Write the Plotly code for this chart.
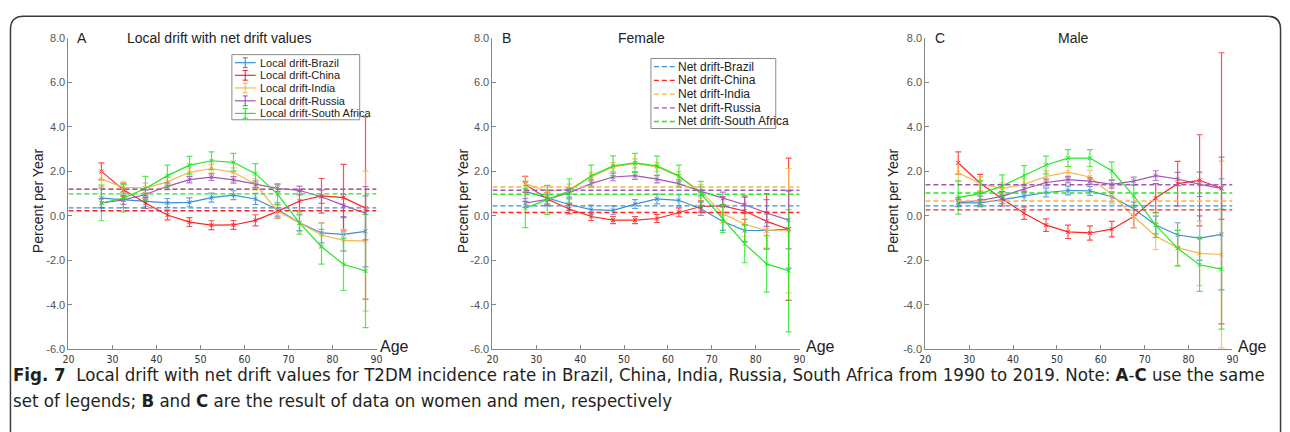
import plotly.graph_objects as go

W, H = 1290, 432

ages = [27.5, 32.5, 37.5, 42.5, 47.5, 52.5, 57.5, 62.5, 67.5, 72.5, 77.5, 82.5, 87.5]
countries = ["Brazil", "China", "India", "Russia", "South Africa"]
colors = ["#3b8fd4", "#ff2424", "#f6b74c", "#a056b8", "#22e822"]
err_colors = ["rgba(59,143,212,0.8)", "rgba(255,36,36,0.8)", "rgba(246,183,76,0.8)",
              "rgba(160,86,184,0.8)", "rgba(34,232,34,0.8)"]

# Panel A: both sexes
A_brazil = [0.80, 0.72, 0.66, 0.58, 0.61, 0.82, 0.93, 0.76, 0.29, -0.31, -0.77, -0.83, -0.70]
A_brazil_err = [0.45, 0.35, 0.25, 0.20, 0.20, 0.20, 0.20, 0.25, 0.30, 0.35, 0.45, 0.75, 1.60]
A_china = [2.00, 1.17, 0.58, 0.04, -0.28, -0.42, -0.41, -0.20, 0.20, 0.67, 0.90, 0.82, 0.35]
A_china_err = [0.38, 0.30, 0.25, 0.22, 0.20, 0.20, 0.20, 0.25, 0.30, 0.45, 0.78, 1.50, 4.10]
A_india = [1.65, 1.28, 1.25, 1.53, 1.96, 2.13, 1.96, 1.42, 0.22, -0.31, -0.86, -1.10, -1.14]
A_india_err = [0.35, 0.25, 0.22, 0.20, 0.20, 0.20, 0.20, 0.25, 0.30, 0.40, 0.55, 0.50, 3.15]
A_russia = [0.58, 0.72, 0.96, 1.33, 1.63, 1.74, 1.62, 1.42, 1.24, 1.14, 0.86, 0.47, 0.12]
A_russia_err = [0.20, 0.20, 0.20, 0.15, 0.15, 0.15, 0.15, 0.15, 0.15, 0.20, 0.30, 0.50, 1.20]
A_safrica = [0.58, 0.80, 1.23, 1.81, 2.28, 2.48, 2.41, 1.90, 0.98, -0.32, -1.39, -2.18, -2.48]
A_safrica_err = [0.80, 0.62, 0.55, 0.47, 0.40, 0.40, 0.40, 0.45, 0.47, 0.50, 0.78, 1.18, 2.55]
A_net = [0.36, 0.23, 1.20, 1.20, 0.99]

# Panel B: female
B_brazil = [1.10, 0.80, 0.51, 0.28, 0.25, 0.53, 0.76, 0.70, 0.32, -0.25, -0.66, -0.66, -0.60]
B_brazil_err = [0.45, 0.35, 0.25, 0.20, 0.20, 0.20, 0.22, 0.25, 0.30, 0.40, 0.50, 0.80, 1.75]
B_china = [1.42, 0.76, 0.31, -0.03, -0.19, -0.19, -0.12, 0.16, 0.42, 0.45, 0.22, -0.25, -0.60]
B_china_err = [0.35, 0.28, 0.22, 0.18, 0.16, 0.16, 0.18, 0.20, 0.25, 0.40, 0.62, 1.25, 3.20]
B_india = [1.45, 1.10, 1.21, 1.75, 2.20, 2.36, 2.20, 1.77, 1.10, 0.10, -0.38, -0.66, -0.67]
B_india_err = [0.35, 0.25, 0.22, 0.20, 0.20, 0.20, 0.20, 0.22, 0.30, 0.40, 0.55, 0.80, 2.80]
B_russia = [0.58, 0.74, 1.04, 1.45, 1.75, 1.81, 1.65, 1.45, 1.10, 0.79, 0.50, 0.13, -0.19]
B_russia_err = [0.20, 0.20, 0.20, 0.17, 0.17, 0.17, 0.17, 0.17, 0.20, 0.28, 0.40, 0.60, 1.30]
B_safrica = [0.35, 0.72, 1.12, 1.80, 2.25, 2.38, 2.25, 1.80, 1.00, -0.13, -1.26, -2.16, -2.47]
B_safrica_err = [0.88, 0.65, 0.55, 0.48, 0.45, 0.43, 0.44, 0.48, 0.55, 0.62, 0.85, 1.27, 2.75]
B_net = [0.45, 0.15, 1.30, 1.15, 0.97]

# Panel C: male
C_brazil = [0.58, 0.58, 0.73, 0.89, 1.05, 1.14, 1.12, 0.86, 0.32, -0.41, -0.86, -1.00, -0.83]
C_brazil_err = [0.15, 0.15, 0.18, 0.20, 0.20, 0.20, 0.20, 0.22, 0.30, 0.40, 0.55, 1.00, 2.50]
C_china = [2.38, 1.47, 0.77, 0.12, -0.42, -0.72, -0.77, -0.60, -0.03, 0.80, 1.45, 1.60, 1.24]
C_china_err = [0.50, 0.40, 0.32, 0.28, 0.28, 0.30, 0.32, 0.35, 0.50, 0.65, 1.00, 2.05, 6.10]
C_india = [1.94, 1.45, 1.23, 1.42, 1.77, 1.97, 1.75, 0.95, -0.03, -0.92, -1.43, -1.69, -1.74]
C_india_err = [0.40, 0.30, 0.25, 0.25, 0.25, 0.25, 0.30, 0.40, 0.50, 0.60, 0.80, 1.45, 4.20]
C_russia = [0.61, 0.69, 0.88, 1.21, 1.50, 1.63, 1.56, 1.42, 1.56, 1.81, 1.66, 1.42, 1.24]
C_russia_err = [0.20, 0.20, 0.20, 0.17, 0.15, 0.15, 0.15, 0.17, 0.18, 0.22, 0.30, 0.55, 1.40]
C_safrica = [0.83, 1.00, 1.34, 1.81, 2.29, 2.60, 2.60, 2.03, 0.90, -0.42, -1.46, -2.20, -2.40]
C_safrica_err = [0.75, 0.60, 0.50, 0.45, 0.40, 0.38, 0.38, 0.40, 0.50, 0.55, 0.80, 1.20, 2.70]
C_net = [0.45, 0.27, 0.67, 1.40, 1.03]

panel_letters = ["A", "B", "C"]
panel_titles = ["Local drift with net drift values", "Female", "Male"]
x_ticks = [20, 30, 40, 50, 60, 70, 80, 90]
y_ticks = [-6, -4, -2, 0, 2, 4, 6, 8]

panels = [
    ([A_brazil, A_china, A_india, A_russia, A_safrica],
     [A_brazil_err, A_china_err, A_india_err, A_russia_err, A_safrica_err], A_net),
    ([B_brazil, B_china, B_india, B_russia, B_safrica],
     [B_brazil_err, B_china_err, B_india_err, B_russia_err, B_safrica_err], B_net),
    ([C_brazil, C_china, C_india, C_russia, C_safrica],
     [C_brazil_err, C_china_err, C_india_err, C_russia_err, C_safrica_err], C_net),
]

def fx(px):
    return px / W

def fy(py):
    return 1 - py / H

# pixel layout of the three plot areas
x_left = [63, 491, 928]
x_right = [374, 801, 1238]
y_top, y_bot = 33, 353

fig = go.Figure()

for p, (vals, errs, nets) in enumerate(panels):
    ax = "" if p == 0 else str(p + 1)
    for i, c in enumerate(countries):
        fig.add_trace(go.Scatter(
            x=ages, y=vals[i], mode="lines+markers",
            name="Local drift-" + c, showlegend=False,
            line=dict(color=colors[i], width=1.2),
            marker=dict(symbol="x-thin", size=4, line=dict(color=colors[i], width=1)),
            error_y=dict(type="data", array=errs[i], visible=True, width=3,
                         thickness=1.2, color=err_colors[i]),
            xaxis="x" + ax, yaxis="y" + ax,
        ))
    for i, c in enumerate(countries):
        fig.add_trace(go.Scatter(
            x=[x_ticks[0], x_ticks[-1]], y=[nets[i], nets[i]], mode="lines",
            name="Net drift-" + c, showlegend=False,
            line=dict(color=colors[i], width=1.4, dash="5px,3px"),
            xaxis="x" + ax, yaxis="y" + ax,
        ))

axis_common = dict(showline=True, linecolor="#858585", linewidth=1, ticks="inside",
                   ticklen=4, tickcolor="#858585", showgrid=False, zeroline=False)

narrow = "Liberation Sans Narrow, DejaVu Sans Condensed, Arial Narrow, sans-serif"

layout = dict(
    width=W, height=H, paper_bgcolor="white", plot_bgcolor="white",
    margin=dict(l=0, r=0, t=0, b=0), showlegend=False,
    font=dict(family="Liberation Sans, Arial, sans-serif", color="#222"),
)
for p in range(3):
    ax = "" if p == 0 else str(p + 1)
    layout["xaxis" + ax] = dict(
        axis_common, domain=[fx(x_left[p]), fx(x_right[p])], range=[20, 90],
        tickvals=x_ticks, ticktext=[str(t) for t in x_ticks],
        tickfont=dict(family=narrow, size=10.5, color="#333"),
        ticklabelstandoff=0,
        anchor="y" + ax,
    )
    layout["yaxis" + ax] = dict(
        axis_common, domain=[fy(y_bot), fy(y_top)], range=[-6, 8],
        tickvals=y_ticks, ticktext=["%.1f" % t for t in y_ticks],
        tickfont=dict(size=11, color="#555"),
        anchor="x" + ax,
    )
fig.update_layout(**layout)

ann = []
shapes = []
letter_x = [77, 505, 943]
title_x = [215, 641, 1078]
ylabel_x = [33, 462, 896]
age_x = [392, 822, 1258]
for p in range(3):
    ann.append(dict(x=fx(letter_x[p]), y=fy(33), xref="paper", yref="paper", text=panel_letters[p],
                    showarrow=False, font=dict(size=14, color="#222"), xanchor="center", yanchor="middle"))
    ann.append(dict(x=fx(title_x[p]), y=fy(33), xref="paper", yref="paper", text=panel_titles[p],
                    showarrow=False, font=dict(size=14, color="#222"), xanchor="center", yanchor="middle"))
    ann.append(dict(x=fx(ylabel_x[p]), y=fy(200), xref="paper", yref="paper", text="Percent per Year",
                    textangle=-90, showarrow=False, font=dict(size=14, color="#222"),
                    xanchor="center", yanchor="middle"))
    ann.append(dict(x=fx(age_x[p]), y=fy(350), xref="paper", yref="paper", text="Age",
                    showarrow=False, font=dict(size=16, color="#222"), xanchor="center", yanchor="middle"))

# Legend A (local drift, error bar lines)
shapes.append(dict(type="rect", xref="paper", yref="paper", x0=fx(228), x1=fx(357), y0=fy(117), y1=fy(50),
                   line=dict(color="#8a8a8a", width=1), fillcolor="white", layer="above"))
legA_y = [58.3, 71.3, 84.3, 97.5, 110.5]
for i, c in enumerate(countries):
    yy = legA_y[i]
    shapes.append(dict(type="line", xref="paper", yref="paper", x0=fx(231), x1=fx(252), y0=fy(yy), y1=fy(yy),
                       line=dict(color=colors[i], width=1.2), layer="above"))
    shapes.append(dict(type="line", xref="paper", yref="paper", x0=fx(241.5), x1=fx(241.5),
                       y0=fy(yy - 5), y1=fy(yy + 5), line=dict(color=colors[i], width=1.1), layer="above"))
    for dy in (-5, 5):
        shapes.append(dict(type="line", xref="paper", yref="paper", x0=fx(239), x1=fx(244),
                           y0=fy(yy + dy), y1=fy(yy + dy), line=dict(color=colors[i], width=1.1), layer="above"))
    ann.append(dict(x=fx(254), y=fy(yy), xref="paper", yref="paper", text="Local drift-" + c,
                    showarrow=False, font=dict(size=11, color="#222"), xanchor="left", yanchor="middle"))

# Legend B (net drift, dashed lines)
shapes.append(dict(type="rect", xref="paper", yref="paper", x0=fx(651), x1=fx(777), y0=fy(126), y1=fy(54),
                   line=dict(color="#8a8a8a", width=1), fillcolor="white", layer="above"))
legB_y = [62.3, 76.5, 90.7, 104.8, 118.8]
for i, c in enumerate(countries):
    yy = legB_y[i]
    shapes.append(dict(type="line", xref="paper", yref="paper", x0=fx(654), x1=fx(675), y0=fy(yy), y1=fy(yy),
                       line=dict(color=colors[i], width=1.3, dash="5px,3px"), layer="above"))
    ann.append(dict(x=fx(676), y=fy(yy), xref="paper", yref="paper", text="Net drift-" + c,
                    showarrow=False, font=dict(size=12, color="#222"), xanchor="left", yanchor="middle"))

# Figure frame with rounded top corners
frame = ("M %f,%f L %f,%f Q %f,%f %f,%f L %f,%f Q %f,%f %f,%f L %f,%f" % (
    fx(4.5), fy(440), fx(4.5), fy(24), fx(4.5), fy(10.5), fx(18), fy(10.5),
    fx(1273), fy(10.5), fx(1286.5), fy(10.5), fx(1286.5), fy(24), fx(1286.5), fy(440)))
shapes.append(dict(type="path", xref="paper", yref="paper", path=frame,
                   line=dict(color="#3a3a3a", width=1.5)))

ann.append(dict(x=fx(5), y=fy(379), xref="paper", yref="paper",
                text="<b>Fig. 7</b>  Local drift with net drift values for T2DM incidence rate in Brazil, China, India, "
                     "Russia, South Africa from 1990 to 2019. Note: <b>A</b>-<b>C</b> use the same",
                showarrow=False, font=dict(family=narrow, size=18.5, color="#231f20"),
                xanchor="left", yanchor="middle"))
ann.append(dict(x=fx(5), y=fy(406), xref="paper", yref="paper",
                text="set of legends; <b>B</b> and <b>C</b> are the result of data on women and men, respectively",
                showarrow=False, font=dict(family=narrow, size=18.5, color="#231f20"),
                xanchor="left", yanchor="middle"))

fig.update_layout(annotations=ann, shapes=shapes)
fig.write_html("out.html")
